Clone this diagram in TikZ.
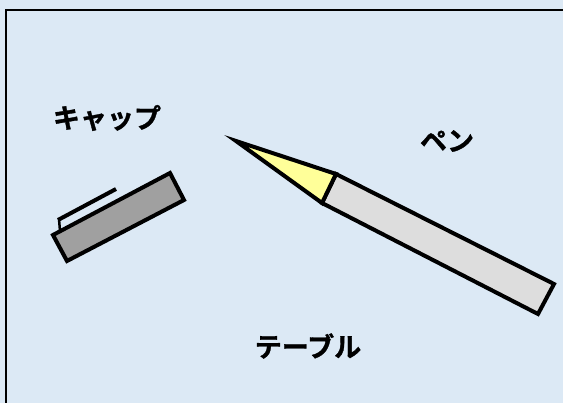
\documentclass[tikz,border=0pt]{standalone}
\usepackage{fontspec}
\newfontfamily\jpfont{Noto Sans CJK JP Bold}[FakeBold=1.2]
\definecolor{tablebg}{RGB}{220,233,245}
\definecolor{penbody}{RGB}{221,221,221}
\definecolor{pentip}{RGB}{255,255,153}
\definecolor{capgray}{RGB}{160,160,160}
\tikzset{
  outline/.style={draw=black, line width=4pt, line join=miter, miter limit=20},
  label/.style={font=\jpfont\fontsize{27}{32}\selectfont, text=black, inner sep=0pt},
}
\begin{document}
\begin{tikzpicture}[x=1pt, y=-1pt]
  % table surface and its frame
  \fill[tablebg] (0,0) rectangle (563,403);
  \useasboundingbox (0,0) rectangle (563,403);
  \draw[line width=2pt] (6,403) -- (6,10) -- (563,10);

  % cap with its clip
  \draw[outline, fill=capgray] (53,235) -- (170,173) -- (184,200) -- (67,261) -- cycle;
  \draw[line width=2.5pt] (60,231) -- (59,219);
  \draw[line width=4pt] (58,220) -- (116,189);

  % pen: body and writing tip
  \draw[outline, fill=penbody] (336,174) -- (554,284) -- (538,314) -- (322,203) -- cycle;
  \draw[outline, fill=pentip] (236,141) -- (336,174) -- (322,203) -- cycle;

  % labels
  \node[label] (cap) at (107,118) {キャップ};
  \node[label] (pen) at (447,141) {ペン};
  \node[label] (table) at (308,346) {テーブル};
\end{tikzpicture}
\end{document}
